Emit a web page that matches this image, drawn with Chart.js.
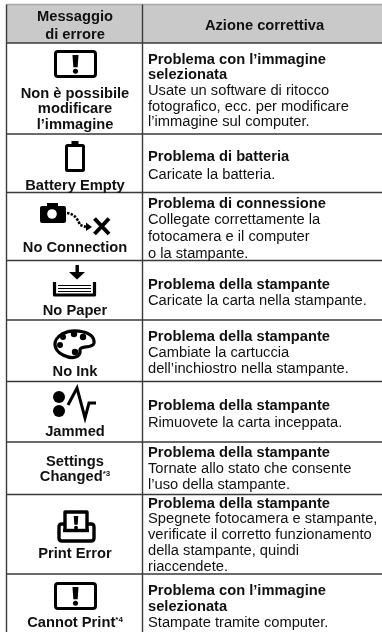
<!DOCTYPE html>
<html lang="it">
<head>
<meta charset="utf-8">
<title>Messaggio di errore</title>
<style>
html,body{margin:0;padding:0;background:#fff}
canvas{display:block;filter:blur(0.35px)}
</style>
<script src="https://cdn.jsdelivr.net/npm/chart.js@4"></script>
</head>
<body>
<canvas id="c" width="382" height="632"></canvas>
<script>
// ---------- table content ----------
const headers = [["Messaggio", "di errore"], ["Azione correttiva"]];
const rowMessages = [
  ["Non è possibile", "modificare", "l’immagine"],
  ["Battery Empty"],
  ["No Connection"],
  ["No Paper"],
  ["No Ink"],
  ["Jammed"],
  ["Settings", "Changed"],
  ["Print Error"],
  ["Cannot Print"]
];
const messageNotes = [null, null, null, null, null, null, "*3", null, "*4"];
const rowTitles = [
  ["Problema con l’immagine", "selezionata"],
  ["Problema di batteria"],
  ["Problema di connessione"],
  ["Problema della stampante"],
  ["Problema della stampante"],
  ["Problema della stampante"],
  ["Problema della stampante"],
  ["Problema della stampante"],
  ["Problema con l’immagine", "selezionata"]
];
const rowActions = [
  ["Usate un software di ritocco", "fotografico, ecc. per modificare", "l’immagine sul computer."],
  ["Caricate la batteria."],
  ["Collegate correttamente la", "fotocamera e il computer", "o la stampante."],
  ["Caricate la carta nella stampante."],
  ["Cambiate la cartuccia", "dell’inchiostro nella stampante."],
  ["Rimuovete la carta inceppata."],
  ["Tornate allo stato che consente", "l’uso della stampante."],
  ["Spegnete fotocamera e stampante,", "verificate il corretto funzionamento", "della stampante, quindi", "riaccendete."],
  ["Stampate tramite computer."]
];
const rowIcons = ["warn", "battery", "camera", "paper", "ink", "jam", null, "print", "warn"];

// ---------- layout, in the axis units ----------
const rowEdges = [4.5, 43, 134, 192.5, 260.5, 320, 381.5, 442, 494.5, 574, 640];
const colEdges = [6.5, 142.5];
const msgLineY = [[93.5,109,124.5],[185.5],[247.5],[310.5],[371.5],[431.5],[461.5,477],[553.5],[622.5]];
const bodyFirstY = [59.5,157,203.5,284.5,336.5,405.5,452.5,503.5,590.5];
const bodyStep = [15.7,18,16.7,16,16,17,16,15.8,16];
const iconCentreY = [64,158,219,281,344,404,null,527,596];

const FONT = '"Liberation Sans", Arial, sans-serif';
const TEXT_BOLD = "bold 14.7px " + FONT;
const TEXT_BODY = "14.7px " + FONT;
const NOTE_FONT = "bold 8px " + FONT;

const tablePlugin = {
  id: "tablePlugin",
  beforeDatasetsDraw(chart) {
    const ctx = chart.ctx, sx = chart.scales.x, sy = chart.scales.y;
    const X = v => sx.getPixelForValue(v), Y = v => sy.getPixelForValue(v);
    ctx.save();
    // header band
    ctx.fillStyle = "#c9c9c9";
    ctx.fillRect(X(colEdges[0]), Y(rowEdges[0]), sx.right - X(colEdges[0]), Y(rowEdges[1]) - Y(rowEdges[0]));
    ctx.restore();
    drawGrid(chart);
    ctx.save();
    ctx.textBaseline = "middle";
    ctx.fillStyle = "#111";
    // header text
    ctx.textAlign = "center";
    ctx.font = TEXT_BOLD;
    ctx.fillText(headers[0][0], X(75), Y(17));
    ctx.fillText(headers[0][1], X(75), Y(35));
    ctx.fillText(headers[1][0], X(264.5), Y(25.5));
    // rows
    rowMessages.forEach((lines, i) => {
      ctx.textAlign = "center";
      ctx.font = TEXT_BOLD;
      lines.forEach((t, j) => {
        const y = Y(msgLineY[i][j]);
        const note = messageNotes[i];
        if (note && j === lines.length - 1) {
          const w = ctx.measureText(t).width;
          ctx.font = NOTE_FONT;
          const nw = ctx.measureText(note).width;
          ctx.font = TEXT_BOLD;
          const x0 = X(75) - (w + nw) / 2;
          ctx.textAlign = "left";
          ctx.fillText(t, x0, y);
          ctx.font = NOTE_FONT;
          ctx.fillText(note, x0 + w, y - 3);
          ctx.font = TEXT_BOLD;
          ctx.textAlign = "center";
        } else {
          ctx.fillText(t, X(75), y);
        }
      });
      ctx.textAlign = "left";
      let y = bodyFirstY[i];
      ctx.font = TEXT_BOLD;
      rowTitles[i].forEach(t => { ctx.fillText(t, X(148), Y(y)); y += bodyStep[i]; });
      ctx.font = TEXT_BODY;
      rowActions[i].forEach(t => { ctx.fillText(t, X(148), Y(y)); y += bodyStep[i]; });
      if (rowIcons[i]) drawIcon(ctx, rowIcons[i], X(75), Y(iconCentreY[i]));
    });
    ctx.restore();
  }
};

function drawGrid(chart) {
  const ctx = chart.ctx, sx = chart.scales.x, sy = chart.scales.y;
  ctx.save();
  ctx.lineWidth = 1.4;
  rowEdges.forEach((e, i) => {
    ctx.strokeStyle = i === 0 ? "#a8a8a8" : "#3a3a3a";
    ctx.beginPath(); ctx.moveTo(sx.getPixelForValue(colEdges[0]), sy.getPixelForValue(e)); ctx.lineTo(sx.right, sy.getPixelForValue(e)); ctx.stroke();
  });
  ctx.strokeStyle = "#3a3a3a";
  colEdges.forEach(e => {
    ctx.beginPath(); ctx.moveTo(sx.getPixelForValue(e), sy.getPixelForValue(rowEdges[0])); ctx.lineTo(sx.getPixelForValue(e), sy.bottom); ctx.stroke();
  });
  ctx.restore();
}

function rr(ctx, x, y, w, h, r) { ctx.beginPath(); ctx.roundRect(x, y, w, h, r); }

function bang(ctx, x, top, h, w) {
  ctx.fillStyle = "#000";
  ctx.beginPath();
  ctx.moveTo(x - w / 2, top); ctx.lineTo(x + w / 2, top);
  ctx.lineTo(x + w * 0.36, top + h * 0.68); ctx.lineTo(x - w * 0.36, top + h * 0.68); ctx.closePath(); ctx.fill();
  ctx.beginPath(); ctx.arc(x, top + h * 0.9, w * 0.42, 0, 7); ctx.fill();
}

function drawIcon(ctx, kind, cx, cy) {
  ctx.save();
  ctx.translate(cx, cy);
  ctx.strokeStyle = "#000"; ctx.fillStyle = "#000";
  ctx.lineWidth = 3; ctx.lineJoin = "round"; ctx.lineCap = "butt";
  if (kind === "warn") {
    rr(ctx, -19.5, -12.5, 40, 25, 2.5); ctx.stroke();
    bang(ctx, 0.5, -9, 18, 6);
  } else if (kind === "battery") {
    rr(ctx, -8.5, -12.5, 17, 25, 1); ctx.stroke();
    ctx.fillRect(-3.5, -17, 7, 4);
  } else if (kind === "camera") {
    ctx.beginPath();
    ctx.roundRect(-35, -13, 26, 17, 2); ctx.fill();
    ctx.fillRect(-28, -16, 11, 4);
    ctx.fillStyle = "#fff"; ctx.beginPath(); ctx.arc(-23, -5, 4.8, 0, 7); ctx.fill();
    ctx.strokeStyle = "#000"; ctx.lineWidth = 2.6; ctx.setLineDash([2.4, 1.4]);
    ctx.beginPath(); ctx.moveTo(-8, -6); ctx.quadraticCurveTo(1, -5, 5, 6); ctx.lineTo(11, 8); ctx.stroke();
    ctx.setLineDash([]); ctx.fillStyle = "#000";
    ctx.beginPath(); ctx.moveTo(11, 3.5); ctx.lineTo(17, 8); ctx.lineTo(11, 12); ctx.closePath(); ctx.fill();
    ctx.lineWidth = 4; ctx.beginPath();
    ctx.moveTo(19.5, -0.5); ctx.lineTo(34, 15); ctx.moveTo(34, -0.5); ctx.lineTo(19.5, 15); ctx.stroke();
  } else if (kind === "paper") {
    ctx.fillRect(0.5, -16, 3.4, 8);
    ctx.beginPath(); ctx.moveTo(-6, -9); ctx.lineTo(10, -9); ctx.lineTo(2, -1.5); ctx.closePath(); ctx.fill();
    ctx.beginPath(); ctx.moveTo(-20.5, 1); ctx.lineTo(-20.5, 14); ctx.lineTo(19.5, 14); ctx.lineTo(19.5, 1); ctx.lineWidth = 3.2; ctx.stroke();
    ctx.lineWidth = 1;
    [4.5, 7.5, 10.5].forEach(y => { ctx.beginPath(); ctx.moveTo(-17, y); ctx.lineTo(16, y); ctx.stroke(); });
  } else if (kind === "ink") {
    ctx.lineWidth = 3.2;
    ctx.beginPath();
    ctx.moveTo(19, -1);
    ctx.bezierCurveTo(20, -13, -2, -16, -13, -10);
    ctx.bezierCurveTo(-23, -4, -22, 6, -12, 11);
    ctx.bezierCurveTo(-2, 16, 6, 13, 5, 6);
    ctx.bezierCurveTo(5, 1, 18, 5, 19, -1);
    ctx.closePath(); ctx.stroke();
    [[-12,-7,3],[-1,-10,3.2],[8,-7,3.2],[-15,1,3],[0,8,3.2]].forEach(d => { ctx.beginPath(); ctx.arc(d[0], d[1], d[2], 0, 7); ctx.fill(); });
  } else if (kind === "jam") {
    ctx.beginPath(); ctx.arc(-16, -7, 6, 0, 7); ctx.fill();
    ctx.beginPath(); ctx.arc(-16, 7, 6, 0, 7); ctx.fill();
    ctx.lineWidth = 3; ctx.lineJoin = "miter"; ctx.beginPath();
    ctx.moveTo(-7, 1); ctx.lineTo(2, -16); ctx.lineTo(10, 14); ctx.lineTo(14, -1); ctx.lineTo(21, -1); ctx.stroke();
  } else if (kind === "print") {
    ctx.lineWidth = 3.4;
    ctx.beginPath();
    ctx.moveTo(-10, 3); ctx.lineTo(-10, -15); ctx.lineTo(12, -15); ctx.lineTo(12, 3); ctx.stroke();
    ctx.beginPath();
    ctx.moveTo(-10, -3); ctx.lineTo(-13, -3); ctx.quadraticCurveTo(-16, -3, -16, 0);
    ctx.lineTo(-16, 11); ctx.quadraticCurveTo(-16, 14, -13, 14); ctx.lineTo(16, 14); ctx.quadraticCurveTo(19, 14, 19, 11);
    ctx.lineTo(19, 0); ctx.quadraticCurveTo(19, -3, 16, -3); ctx.lineTo(12, -3); ctx.stroke();
    ctx.beginPath(); ctx.moveTo(-12, 3.5); ctx.lineTo(14, 3.5); ctx.stroke();
    bang(ctx, 1, -11, 13, 4.6);
  }
  ctx.restore();
}

new Chart(document.getElementById("c"), {
  type: "scatter",
  data: { datasets: [{ label: "righe", data: bodyFirstY.map(y => ({ x: 148, y })), pointRadius: 0, showLine: false }] },
  options: {
    responsive: false,
    animation: false,
    layout: { padding: 0 },
    plugins: { legend: { display: false }, tooltip: { enabled: false }, title: { display: false } },
    scales: {
      x: { type: "linear", min: 0, max: 382, display: false },
      y: { type: "linear", min: 0, max: 632, reverse: true, display: false }
    }
  },
  plugins: [tablePlugin]
});
</script>
</body>
</html>
